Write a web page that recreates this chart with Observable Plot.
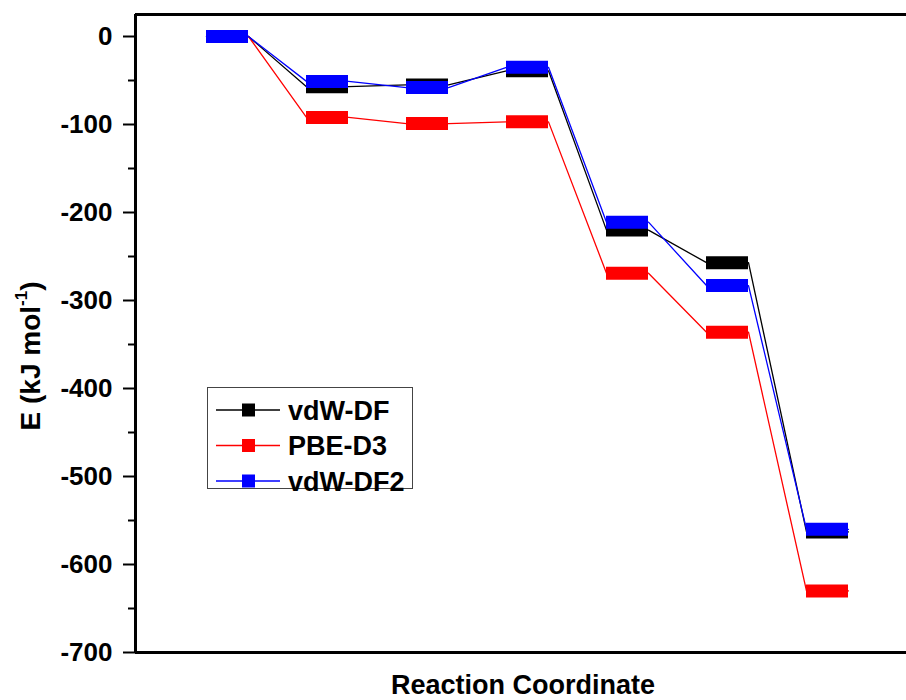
<!DOCTYPE html>
<html><head><meta charset="utf-8">
<script src="https://cdn.jsdelivr.net/npm/d3@7"></script>
<script src="https://cdn.jsdelivr.net/npm/@observablehq/plot@0.6"></script>
<style>
body{margin:0;background:#fff;}
#chart{position:relative;width:906px;height:700px;overflow:hidden;font-family:"Liberation Sans",Arial,sans-serif;}
#legend{position:absolute;left:207px;top:387px;width:206px;height:102px;box-sizing:border-box;border:1px solid #444;background:#fff;}
#legend svg{overflow:visible;display:block;}
</style></head><body><div id="chart"></div>
<script>
// ---- data ----
const levels = [1, 2, 3, 4, 5, 6, 7];
const vdwDF  = [0, -57, -55, -39, -220, -257, -563];
const pbeD3  = [0, -92, -99, -97, -269, -336, -630];
const vdwDF2 = [0, -51, -58, -35, -211, -283, -560];
const seriesNames  = ["vdW-DF", "PBE-D3", "vdW-DF2"];
const seriesColors = ["#000000", "#ff0000", "#0000ff"];
const majorTicks = [0, -100, -200, -300, -400, -500, -600, -700];
const minorTicks = [-50, -150, -250, -350, -450, -550, -650];
const yTitle = "E (kJ mol";
const yTitleSup = "-1";
const yTitleEnd = ")";
const xTitle = "Reaction Coordinate";

// ---- build ----
const halfWidth = 0.21;
const xDomain = [0.08, 7.79];
const yDomain = [-700, 25];
const series = [vdwDF, pbeD3, vdwDF2].map((vals, k) => ({
  name: seriesNames[k], color: seriesColors[k],
  rows: levels.map((x, i) => ({x, y: vals[i]}))
}));
const linePoints = s => s.rows.flatMap(d => [{x: d.x - halfWidth, y: d.y}, {x: d.x + halfWidth, y: d.y}]);

const marks = [];
series.forEach(s => marks.push(Plot.line(linePoints(s), {x: "x", y: "y", stroke: s.color, strokeWidth: 1.3})));
series.forEach(s => marks.push(Plot.ruleY(s.rows, {y: "y", x1: d => d.x - halfWidth, x2: d => d.x + halfWidth, stroke: s.color, strokeWidth: 13})));
marks.push(Plot.axisY(minorTicks, {tickSize: 7, text: null, strokeWidth: 2, label: null}));
marks.push(Plot.axisY(majorTicks, {tickSize: 12, tickPadding: 11, strokeWidth: 2, fontSize: 26, fontWeight: "bold", fill: "#000", tickFormat: d => String(d), label: null}));
marks.push(Plot.ruleY([yDomain[0], yDomain[1]], {stroke: "#000", strokeWidth: 3}));
marks.push(Plot.ruleX([xDomain[0]], {stroke: "#000", strokeWidth: 3}));

const plot = Plot.plot({
  width: 906, height: 700,
  marginLeft: 135, marginRight: 0, marginTop: 14, marginBottom: 48,
  x: {domain: xDomain, axis: null},
  y: {domain: yDomain, axis: null},
  style: {fontFamily: "'Liberation Sans', Arial, sans-serif", background: "#fff", overflow: "visible"},
  marks
});
const chart = document.getElementById("chart");
chart.appendChild(plot);

const svg = d3.select(plot);
// axis titles
svg.append("text")
  .attr("x", 523).attr("y", 694)
  .attr("text-anchor", "middle")
  .attr("font-size", 27).attr("font-weight", "bold")
  .attr("fill", "#000")
  .text(xTitle);
const yt = svg.append("text")
  .attr("transform", "translate(40,356) rotate(-90)")
  .attr("text-anchor", "middle")
  .attr("font-size", 28).attr("font-weight", "bold")
  .attr("fill", "#000");
yt.append("tspan").text(yTitle);
yt.append("tspan").attr("font-size", 17).attr("dy", -13).text(yTitleSup);
yt.append("tspan").attr("dy", 13).text(yTitleEnd);

// legend
const legend = d3.select(chart).append("div").attr("id", "legend");
const lsvg = legend.append("svg").attr("width", 204).attr("height", 100);
series.forEach((s, i) => {
  const cy = 22 + i * 35.5;
  const g = lsvg.append("g");
  g.append("line").attr("x1", 8).attr("x2", 72).attr("y1", cy).attr("y2", cy).attr("stroke", s.color).attr("stroke-width", 1.3);
  g.append("rect").attr("x", 34).attr("y", cy - 6.5).attr("width", 13).attr("height", 13).attr("fill", s.color);
  g.append("text").attr("x", 80).attr("y", cy).attr("dy", "0.36em")
    .attr("font-size", 27).attr("font-weight", "bold").attr("fill", "#000")
    .attr("font-family", "'Liberation Sans', Arial, sans-serif")
    .text(s.name);
});
</script></body></html>
